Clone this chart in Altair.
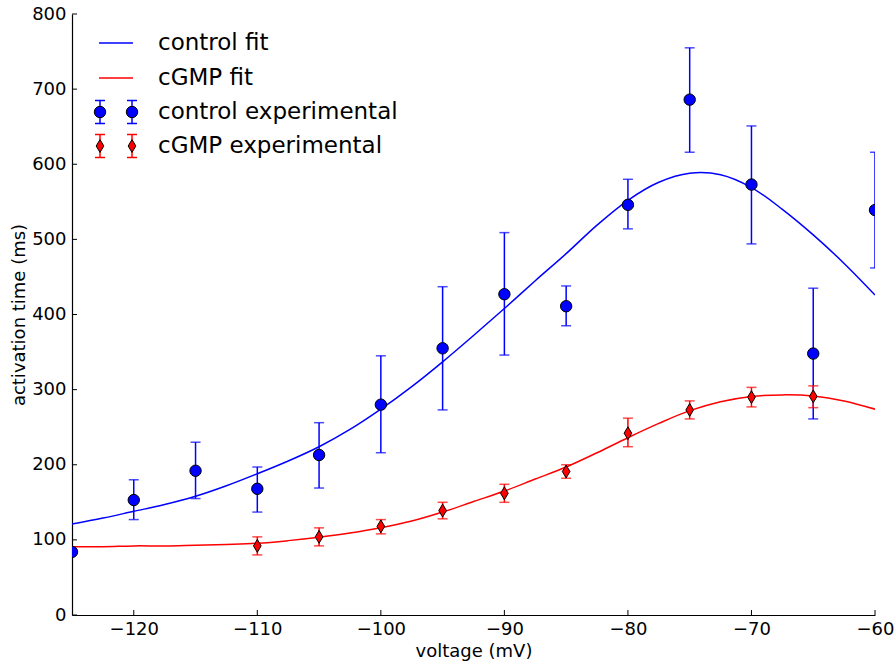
import altair as alt
import pandas as pd

# ---------------- data ----------------
ctrl_volt = [-125, -120, -115, -110, -105, -100, -95, -90, -85, -80, -75, -70, -65, -60]
ctrl_mean = [84, 153, 192, 168, 213, 280, 355, 427, 411, 546, 686, 573, 348, 539]
ctrl_lo = [84, 127, 155, 137, 169, 216, 273, 346, 385, 514, 616, 494, 261, 462]
ctrl_hi = [84, 180, 230, 197, 256, 345, 437, 509, 438, 580, 755, 651, 435, 616]

cgmp_volt = [-110, -105, -100, -95, -90, -85, -80, -75, -70, -65]
cgmp_mean = [92, 104, 118, 139, 162, 191, 242, 273, 290, 291]
cgmp_lo = [80, 92, 108, 128, 150, 182, 224, 261, 277, 276]
cgmp_hi = [104, 116, 127, 150, 174, 200, 262, 285, 303, 305]

fit_volt = [-125, -122.5, -120, -117.5, -115, -112.5, -110, -107.5, -105, -102.5,
            -100, -97.5, -95, -92.5, -90, -87.5, -85, -82.5, -80, -77.5,
            -75, -72.5, -70, -67.5, -65, -62.5, -60]
ctrl_fit = [121, 129, 138, 147, 158, 172, 188, 205, 224, 247,
            274, 304, 337, 372, 408, 445, 481, 519, 552, 576,
            588, 586, 569, 540, 506, 468, 426]
cgmp_fit = [91, 91, 92, 92, 93, 94, 95.5, 99, 103.5, 109,
            116, 125, 137, 151, 165, 181, 197, 216, 236, 255,
            272, 284, 291, 293, 291.5, 285, 274]

x_ticks = [-120, -110, -100, -90, -80, -70, -60]
y_ticks = [0, 100, 200, 300, 400, 500, 600, 700, 800]

legend_labels = ["control fit", "cGMP fit", "control experimental", "cGMP experimental"]

# ---------------- tables ----------------
ctrl_df = pd.DataFrame({"v": ctrl_volt, "m": ctrl_mean, "lo": ctrl_lo, "hi": ctrl_hi})
cgmp_df = pd.DataFrame({"v": cgmp_volt, "m": cgmp_mean, "lo": cgmp_lo, "hi": cgmp_hi})
fit_df = pd.DataFrame({"v": fit_volt, "c": ctrl_fit, "g": cgmp_fit})
xt_df = pd.DataFrame({"v": x_ticks})
yt_df = pd.DataFrame({"m": y_ticks})
one = pd.DataFrame({"k": [0]})

W, H = 803, 601
FONT = "DejaVu Sans"
BLUE = "#0000ff"
RED = "#ff0000"
DIAMOND = "M0,-1L0.6,0L0,1L-0.6,0Z"

xscale = alt.Scale(domain=[-125, -60], nice=False, zero=False)
yscale = alt.Scale(domain=[0, 800], nice=False, zero=True)

xaxis = alt.Axis(values=x_ticks, ticks=False, tickSize=0, labelPadding=5, grid=False,
                 domainColor="black", domainWidth=1.2, labelFlush=False,
                 labelFont=FONT, labelFontSize=18, labelColor="black",
                 title="voltage (mV)", titleFont=FONT, titleFontSize=18,
                 titleFontWeight="normal", titleColor="black", titlePadding=4)
yaxis = alt.Axis(values=y_ticks, ticks=False, tickSize=0, labelPadding=6, grid=False,
                 domainColor="black", domainWidth=1.2, labelFlush=False,
                 labelFont=FONT, labelFontSize=18, labelColor="black",
                 title="activation time (ms)", titleFont=FONT, titleFontSize=18,
                 titleFontWeight="normal", titleColor="black", titlePadding=3)


def X(f):
    return alt.X(f, type="quantitative", scale=xscale, axis=xaxis)


def Y(f):
    return alt.Y(f, type="quantitative", scale=yscale, axis=yaxis)


# fits
ctrl_line = alt.Chart(fit_df).mark_line(color=BLUE, strokeWidth=1.5, interpolate="catmull-rom", clip=True).encode(
    x=X("v"), y=Y("c"))
cgmp_line = alt.Chart(fit_df).mark_line(color=RED, strokeWidth=1.5, interpolate="catmull-rom", clip=True).encode(
    x=X("v"), y=Y("g"))


def errlayers(df, color, shape, size):
    bars = alt.Chart(df).mark_rule(color=color, strokeWidth=1.5, clip=True).encode(
        x=X("v"), y=Y("lo"), y2="hi:Q")
    cap_lo = alt.Chart(df).mark_tick(color=color, orient="horizontal", size=10, thickness=1.5, clip=True).encode(
        x=X("v"), y=Y("lo"))
    cap_hi = alt.Chart(df).mark_tick(color=color, orient="horizontal", size=10, thickness=1.5, clip=True).encode(
        x=X("v"), y=Y("hi"))
    pts = alt.Chart(df).mark_point(shape=shape, size=size, filled=True, fill=color, stroke="black",
                                   strokeWidth=1, opacity=1, clip=True).encode(
        x=X("v"), y=Y("m"))
    return [bars, cap_lo, cap_hi, pts]


ctrl_layers = errlayers(ctrl_df, BLUE, "circle", 130)
cgmp_layers = errlayers(cgmp_df, RED, DIAMOND, 165)

# inward ticks (matplotlib style)
xticks_in = alt.Chart(xt_df).mark_rule(color="black", strokeWidth=1).encode(
    x=X("v"), y=alt.value(H), y2=alt.value(H - 5))
yticks_in = alt.Chart(yt_df).mark_rule(color="black", strokeWidth=1).encode(
    y=Y("m"), x=alt.value(0), x2=alt.value(5))

# legend (manual, matplotlib style)
rows = [29, 64, 98, 132]
leg = []
for lab, ry in zip(legend_labels, rows):
    leg.append(alt.Chart(one).mark_text(align="left", baseline="middle", font=FONT, fontSize=23,
                                        color="black").encode(
        x=alt.value(86), y=alt.value(ry), text=alt.value(lab)))
leg.append(alt.Chart(one).mark_rule(color=BLUE, strokeWidth=1.5).encode(
    x=alt.value(27), x2=alt.value(61), y=alt.value(rows[0])))
leg.append(alt.Chart(one).mark_rule(color=RED, strokeWidth=1.5).encode(
    x=alt.value(27), x2=alt.value(61), y=alt.value(rows[1])))
for ry, color, shape, size in [(rows[2], BLUE, "circle", 130), (rows[3], RED, DIAMOND, 165)]:
    for mx in [28, 60]:
        leg.append(alt.Chart(one).mark_rule(color=color, strokeWidth=1.5).encode(
            x=alt.value(mx), y=alt.value(ry - 11.5), y2=alt.value(ry + 11.5)))
        for cy in [ry - 11.5, ry + 11.5]:
            leg.append(alt.Chart(one).mark_rule(color=color, strokeWidth=1.5).encode(
                x=alt.value(mx - 5), x2=alt.value(mx + 5), y=alt.value(cy)))
        leg.append(alt.Chart(one).mark_point(shape=shape, size=size, filled=True, fill=color,
                                             stroke="black", strokeWidth=1, opacity=1).encode(
            x=alt.value(mx), y=alt.value(ry)))

chart = alt.layer(
    ctrl_line, cgmp_line, *ctrl_layers, *cgmp_layers, xticks_in, yticks_in, *leg
).properties(
    width=W, height=H,
    autosize=alt.AutoSizeParams(type="none"),
    padding={"left": 72, "top": 14, "right": 21, "bottom": 53},
    background="white",
).configure_view(stroke=None)

chart.save("out.html", embed_options={"renderer": "svg", "actions": False})
